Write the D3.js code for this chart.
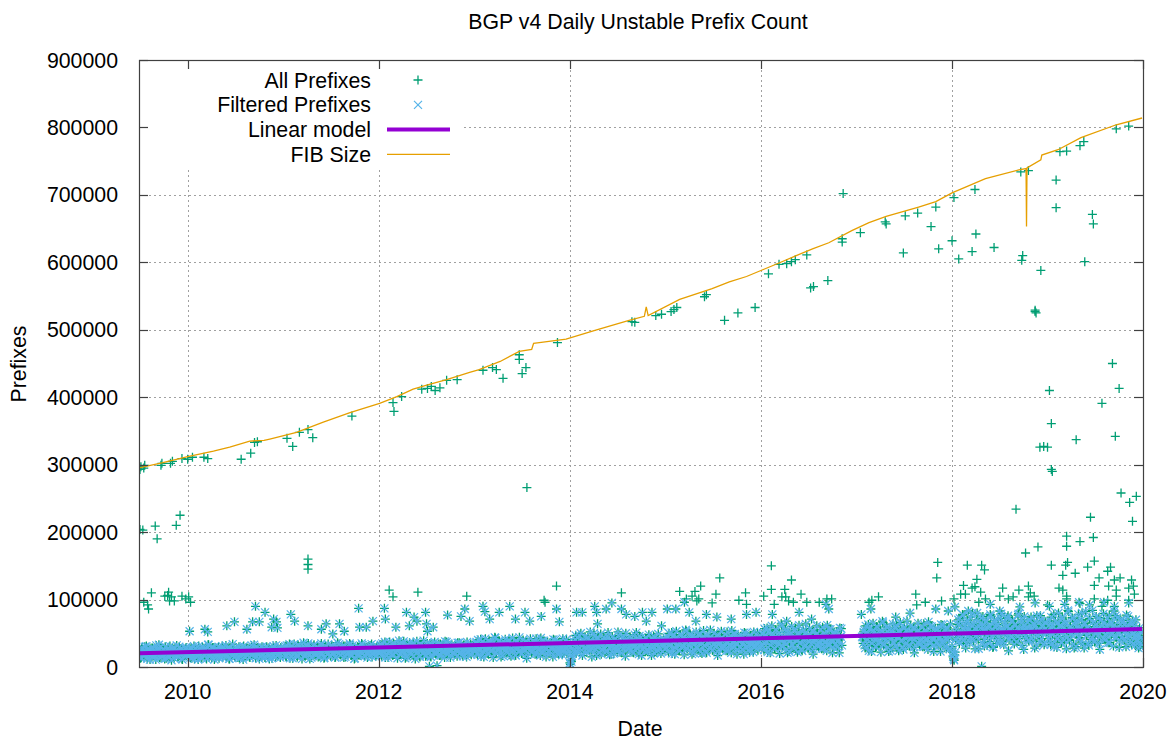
<!DOCTYPE html>
<html>
<head>
<meta charset="utf-8">
<script src="https://cdn.jsdelivr.net/npm/d3@7"></script>
<style>
  body { margin: 0; background: #fff; }
  text { font-family: "Liberation Sans", Arial, sans-serif; fill: #000; }
</style>
</head>
<body>
<svg id="chart" width="1171" height="740"></svg>
<script>
// all values in thousands of prefixes, dates as decimal years
var yearTicks = [2010, 2012, 2014, 2016, 2018, 2020];
var valueTicks = [0, 100, 200, 300, 400, 500, 600, 700, 800, 900];

// filtered prefixes, one value every 4 days from each segment start
var bandStarts = ["2009-06-25", "2010-01-01", "2011-01-01", "2012-01-01", "2013-01-01",
  "2014-01-01", "2015-01-01", "2016-01-01", "2017-01-22", "2018-01-01", "2019-01-01"];
var bandValues = [
  "21 18 25 14 29 20 16 23 31 12 19 26 22 15 28 17 24 11 20 27 33 18 14 22 25 19 30 13 21 16 26 23 10 28 20 17 24 32 15 22 19 27 12 21 25 18 29",
  "22 16 28 19 13 25 31 20 17 24 11 27 21 15 30 23 18 26 12 22 33 19 25 14 20 29 16 23 27 18 13 24 21 31 17 26 20 15 28 22 12 25 19 34 23 16 21 27 14 30 24 18 22 11 26 20 29 17 23 15 25 32 19 21 28 13 24 18 27 22 16 30 20 25 14 23 19 28 12 26 21 17 31 24 15 22 27 18 20 29 23",
  "24 19 31 15 27 22 34 18 25 13 29 21 26 17 33 23 20 28 12 24 30 16 26 22 35 19 27 14 23 31 21 25 18 29 24 16 32 20 26 13 28 22 19 34 25 17 23 30 21 27 15 24 36 20 26 18 29 22 14 31 25 19 27 23 33 17 24 28 12 21 26 30 18 25 22 35 20 27 16 24 29 19 23 32 26 15 21 28 24 18 30",
  "27 21 33 16 29 24 37 19 26 14 31 23 28 18 35 25 22 30 13 27 34 20 28 24 38 17 30 15 26 32 22 29 19 36 27 12 31 23 28 16 33 25 20 39 27 18 24 30 22 35 15 28 26 21 32 19 29 25 17 34 27 23 30 14 26 37 21 28 24 18 33 27 20 31 25 16 29 36 22 27 19 32 24 28 15 30 23 26 34 21 28",
  "30 24 37 18 33 27 41 21 29 15 35 26 31 20 39 28 23 34 14 30 43 22 32 27 38 19 33 17 29 36 25 31 21 40 30 16 35 26 32 18 37 28 23 44 30 20 27 34 25 38 13 31 29 24 36 22 33 28 19 42 30 26 35 17 29 39 24 31 27 21 37 30 23 34 28 15 32 40 25 30 20 36 27 33 18 35 26 29 41 24 31",
  "6 10 16 33 26 41 20 37 30 47 23 32 17 39 29 35 22 44 31 25 38 15 34 50 24 36 30 43 21 37 19 32 40 27 35 23 46 33 18 39 29 36 20 42 31 26 52 33 22 30 38 28 45 16 34 32 27 41 24 37 31 21 48 33 29 40 19 32 44 26 35 30 23 42 33 25 38 31 17 36 46 28 33 22 40 30 37 20 39 29 34",
  "37 29 45 22 41 33 51 26 36 19 43 31 38 24 48 34 28 42 18 37 53 27 39 33 47 23 41 21 36 44 30 38 25 50 37 20 43 32 39 23 46 35 28 55 37 25 33 42 31 47 17 38 36 29 44 27 41 34 24 52 37 32 43 21 36 49 30 38 34 26 46 37 28 42 35 19 40 50 31 37 25 45 33 41 22 43 32 36 51 30 38",
  "41 32 50 25 46 37 58 29 40 21 48 35 43 27 55 38 31 47 20 41 61 30 44 37 53 26 46 23 40 50 34 42 28 57 41 22 49 36 44 26 52 39 31 64 41 28 37 47 35 54 19 42 40 33 50 30 46 38 27 59 41 36 48 24 40 56 33 43 38 29 52 41 31 47 39 21 45 57",
  "45 35 55 28 50 40 63 32 44 23 53 38 47 30 60 42 34 51 22 45 66 33 48 41 58 29 50 25 44 55 37 46 31 62 45 24 53 39 48 29 57 43 34 68 45 31 41 52 38 59 21 46 44 36 55 33 50 42 30 64 45 39 53 26 44 61 36 47 42 32 57 45 34 52 43 23 49 62 38 45 31 56 41 50 27",
  "30 15 10 22 56 44 70 35 62 49 78 39 55 28 66 47 58 37 74 52 42 63 27 56 80 41 60 51 72 36 62 31 55 68 46 57 38 76 56 29 66 48 59 35 71 53 42 79 56 38 51 64 47 73 24 57 54 44 68 41 62 52 37 77 56 48 65 32 55 75 45 58 52 40 70 56 42 64 53 28 61 76 47 56 38 69 51 62 33 67 50",
  "54 42 68 33 61 48 78 37 56 29 66 45 59 36 74 51 40 63 27 54 82 39 60 50 72 34 62 30 53 68 44 57 37 80 54 28 65 47 58 35 71 52 41 84 54 37 50 64 46 73 26 55 53 43 67 40 62 51 36 77 54 47 65 31 55 76 44 58 51 39 70 54 41 63 52 30 60 75 46 54 37 68 50 61 32 47 40 28 58 35 44"
];
// the days in between, two days after each segment start
var bandValues2 = [
  "19 24 13 27 22 17 30 20 15 26 23 11 28 18 21 25 16 32 19 24 14 29 21 17 26 12 23 20 27 15 31 22 18 25 13 28 20 24 16 30 21 26 11 19 23 27 17",
  "20 25 14 29 18 23 12 27 21 16 31 19 24 13 28 22 17 26 20 33 15 24 18 29 21 11 26 19 23 30 16 22 27 14 25 20 32 18 23 12 28 21 17 26 24 15 29 19 22 13 27 20 25 31 16 23 18 28 21 14 26 19 24 33 17 22 29 20 12 25 23 18 27 15 21 30 24 16 26 19 13 28 22 20 32 17 25 21 14 27 23",
  "23 28 16 32 21 26 13 30 24 18 34 22 27 15 31 25 19 29 23 36 17 26 20 32 24 12 29 21 25 33 18 24 30 15 27 22 35 20 25 14 31 23 19 28 26 16 32 21 24 14 30 22 27 34 18 25 20 31 23 15 28 21 26 35 19 24 32 22 13 27 25 20 29 17 23 33 26 18 28 21 14 30 24 22 34 19 27 23 16 29 25",
  "26 31 18 35 24 29 14 33 27 20 37 25 30 17 34 28 21 32 26 39 19 29 23 35 27 13 32 24 28 36 20 27 33 16 30 25 38 22 28 15 34 26 21 31 29 18 35 24 27 16 33 25 30 37 20 28 22 34 26 17 31 24 29 38 21 27 35 25 14 30 28 22 32 19 26 36 29 20 31 24 16 33 27 25 37 21 30 26 18 32 28",
  "29 35 20 40 27 33 16 37 30 22 42 28 34 19 38 31 24 36 29 44 21 32 26 39 30 15 36 27 31 41 22 30 37 18 34 28 43 25 31 17 38 29 23 35 32 20 40 27 30 18 37 28 33 42 22 31 25 38 29 19 35 27 32 43 23 30 39 28 15 34 31 24 36 21 29 41 32 22 35 27 18 37 30 28 42 23 33 29 20 36 31",
  "4 8 20 38 31 47 24 43 35 28 50 32 39 22 45 36 27 42 33 52 25 37 30 46 34 17 42 31 36 49 26 35 44 21 40 33 51 29 36 19 45 34 27 41 38 23 47 32 35 21 44 33 39 50 26 36 29 45 34 22 41 31 37 51 27 35 46 33 17 40 36 28 43 24 34 48 37 26 41 31 21 44 35 32 49 27 39 34 23 42 36",
  "36 42 25 50 33 40 20 46 37 28 53 34 42 24 48 38 30 45 35 55 27 40 32 49 37 19 45 33 39 52 28 37 47 22 43 35 54 31 39 21 48 36 29 44 40 25 50 34 38 23 47 35 41 53 28 39 31 48 36 24 44 33 40 54 29 37 49 35 19 43 38 30 46 26 36 51 40 28 44 33 22 47 37 34 52 29 41 36 25 45 38",
  "40 48 29 57 38 46 22 53 42 32 61 39 48 27 55 43 34 51 40 64 30 45 36 56 42 21 51 38 44 60 32 42 54 25 49 40 62 35 44 24 55 41 33 50 46 28 57 39 43 26 53 40 47 61 32 44 36 55 41 27 50 38 45 62 33 42 56 40 21 49 43 34 52 30 41 58 45 32",
  "44 52 32 61 41 50 24 57 46 35 65 43 52 30 59 47 37 55 44 68 33 49 39 60 46 23 55 42 48 64 35 46 58 28 53 44 66 38 48 26 59 45 36 54 50 31 61 43 47 29 57 44 51 65 35 48 40 59 45 30 54 42 49 67 36 46 60 44 23 53 47 37 56 33 45 63 49 35 55 42 27 58 46 43 64",
  "22 12 18 40 50 63 38 72 52 44 77 49 60 35 69 54 42 64 51 80 39 57 46 70 53 27 64 49 56 75 41 54 67 32 61 51 78 45 56 30 69 52 42 63 58 36 72 50 55 33 67 51 59 76 40 56 46 69 52 34 63 48 57 79 42 54 70 51 26 62 55 43 66 38 52 74 57 40 64 49 31 67 53 50 76 42 60 54 36 65 52",
  "52 62 38 74 49 60 30 68 55 43 80 51 62 36 71 57 45 67 53 84 41 59 48 73 55 28 67 51 58 78 43 56 70 34 64 53 82 47 59 32 72 54 44 66 60 38 75 52 57 35 69 53 61 79 42 58 48 72 54 36 66 50 60 83 44 56 73 53 29 63 57 45 69 40 54 77 59 42 66 51 33 64 50 47 70 38 55 46 30 52 41"
];

// filtered days that stand out of the band (same in both series)
var filteredHigh = [
  [2010.02,53],[2010.18,56],[2010.21,52],[2010.41,61],[2010.49,67],[2010.62,56],[2010.68,67],[2010.71,90],
  [2010.75,67],[2010.81,81],[2010.88,59],[2010.90,71],[2010.93,67],[2010.94,58],[2011.08,78],[2011.12,68],
  [2011.26,61],[2011.40,56],[2011.45,64],[2011.52,49],[2011.59,64],[2011.64,53],[2011.79,87],[2011.80,59],
  [2011.87,59],[2011.94,68],[2012.06,87],[2012.07,71],[2012.18,59],[2012.29,81],[2012.32,61],[2012.37,74],
  [2012.40,68],[2012.49,81],[2012.50,64],[2012.51,53],[2012.57,59],[2012.72,77],[2012.86,75],[2012.90,86],
  [2012.95,68],[2013.11,82],[2012.53,1],[2012.61,2],[2012.49,16],
  [2013.09,90],[2013.16,71],[2013.26,81],[2013.37,90],[2013.43,71],[2013.53,81],[2013.58,68],[2013.70,75],
  [2013.86,86],[2013.89,67],[2014.07,81],[2014.13,81],[2014.26,90],[2014.28,81],[2014.29,64],[2014.38,86],
  [2014.44,95],[2014.54,86],[2014.59,78],[2014.68,75],[2014.76,81],[2014.80,68],[2014.86,81],[2014.96,61],
  [2015.02,86],[2015.11,86],[2015.20,96],[2015.25,81],[2015.32,68],[2015.43,78],[2015.54,74],[2015.69,71],
  [2015.85,78],[2015.95,81],[2016.12,78],[2016.27,68],[2016.40,81],[2016.53,71],[2016.71,86],
  [2016.68,93],[2017.05,78],[2017.15,86],[2017.41,74],[2017.56,80],[2017.83,86],[2017.96,83],[2018.03,89],
  [2018.17,83],[2018.40,93],[2018.50,83],[2018.71,89],[2018.87,95],[2019.02,90],[2019.18,93],[2019.33,96],
  [2019.44,92],[2019.59,96],[2019.70,90],[2019.85,95],[2018.31,1]
];

// unfiltered-only days (All Prefixes)
var allOutliers = [
  [2009.50,293],[2009.51,297],[2009.54,295],[2009.55,299],[2009.73,302],[2009.72,299],[2009.84,305],[2009.82,302],
  [2009.94,309],[2010.00,308],[2010.05,311],[2010.17,311],[2010.21,309],[2010.56,308],[2010.66,317],[2010.70,333],
  [2010.73,334],[2011.04,339],[2011.10,327],[2011.17,348],[2011.26,352],[2011.31,340],[2011.72,372],[2012.15,392],
  [2012.16,379],[2012.24,401],[2012.45,412],[2012.51,413],[2012.55,416],[2012.59,410],[2012.64,414],[2012.71,425],
  [2012.82,426],[2013.09,440],[2013.19,444],[2013.23,441],[2013.30,428],[2013.47,463],[2013.47,456],[2013.50,435],
  [2013.54,444],[2013.87,481],[2014.65,512],[2014.68,511],[2014.90,521],[2014.96,523],[2015.06,527],[2015.09,530],
  [2015.12,533],[2015.41,549],[2015.43,552],[2015.62,514],[2015.76,525],[2015.94,533],[2016.08,583],[2016.19,597],
  [2016.27,598],[2016.32,601],[2016.36,604],[2016.48,611],[2016.52,562],[2016.55,564],[2016.70,573],[2016.85,635],
  [2016.85,630],[2016.86,702],[2017.04,644],[2017.30,660],[2017.31,657],[2017.49,614],[2017.51,669],[2017.64,673],
  [2017.78,653],[2017.83,682],[2017.86,620],[2018.00,632],[2018.02,696],[2018.07,605],[2018.21,616],[2018.24,708],
  [2018.25,642],[2018.44,622],[2018.72,734],[2018.80,736],[2018.74,610],[2018.73,603],[2018.87,527],[2018.88,525],
  [2018.87,529],[2018.93,588],[2019.09,722],[2019.09,681],[2019.13,764],[2019.20,765],[2019.34,773],[2019.38,779],
  [2019.72,798],[2019.85,802],[2019.39,601],[2019.47,671],[2019.48,657],[2019.68,450],[2019.75,413],[2019.57,391],
  [2019.71,342],[2019.02,410],[2019.04,361],[2018.92,326],[2018.96,327],[2019.00,326],[2019.30,337],[2019.04,293],
  [2019.05,290],[2018.67,234],[2019.77,258],[2019.86,244],[2019.93,253],[2019.45,222],[2019.89,216],[2019.20,194],
  [2019.48,192],[2019.34,186],[2019.20,179],[2018.90,178],[2018.77,169],
  [2009.50,204],[2009.53,203],[2009.66,209],[2009.68,190],[2009.88,210],[2009.92,225],[2011.26,160],[2011.26,152],
  [2011.26,145],[2013.55,266],
  [2009.62,110],[2009.54,96],[2009.59,86],[2009.58,92],[2009.76,105],[2009.79,106],[2009.81,98],[2009.83,104],
  [2009.86,98],[2009.80,111],[2009.94,105],[2009.98,101],[2010.01,104],[2010.03,96],[2012.11,114],[2012.15,104],
  [2012.41,111],[2012.92,105],
  [2013.86,120],[2013.73,99],[2013.74,96],[2014.54,110],[2015.15,112],[2015.22,101],[2015.28,105],[2015.31,112],
  [2015.33,98],[2015.37,120],[2015.35,101],[2015.49,95],[2015.53,108],[2015.57,132],[2015.77,99],[2015.84,110],
  [2015.85,93],[2016.03,105],[2016.11,150],[2016.11,115],[2016.14,93],[2016.25,115],[2016.26,104],[2016.32,129],
  [2016.29,98],[2016.34,96],[2016.22,104],[2016.42,108],[2016.48,96],[2016.61,96],[2016.74,101],
  [2016.69,101],[2017.13,96],[2017.16,99],[2017.23,104],[2017.62,108],[2017.63,92],[2017.72,96],[2017.89,98],
  [2018.02,101],[2018.28,96],[2018.35,101],[2018.59,101],[2018.64,104],[2018.80,104],[2019.00,92],[2019.20,101],
  [2019.34,94],[2019.49,101],[2019.57,90],[2019.63,99],[2019.85,99],
  [2017.85,155],[2017.84,132],[2018.16,151],[2018.31,151],[2018.34,144],[2018.26,130],[2019.04,151],[2019.21,155],
  [2019.19,151],[2019.16,136],[2019.29,139],[2019.49,157],[2019.42,148],[2019.63,142],[2019.66,148],[2019.54,132],
  [2019.70,129],[2019.76,132],[2019.88,129],
  [2018.12,121],[2018.21,117],[2018.24,119],[2018.09,108],[2018.14,108],[2018.30,111],[2018.53,117],[2018.50,105],
  [2018.70,114],[2018.80,120],[2018.82,110],[2018.86,105],[2019.12,117],[2019.16,114],[2019.20,105],[2019.49,121],
  [2019.64,120],[2019.72,114],[2019.85,117],[2019.90,120],[2019.91,108],[2019.72,105]
];

var linearModel = [[2009.48, 20.3], [2019.99, 56.2]];

var fibSize = [
  [2009.48,295],[2009.74,303],[2010.00,312],[2010.27,320],[2010.44,326],[2010.65,335],[2010.80,336],[2010.86,338],
  [2011.14,348],[2011.42,363],[2011.70,377],[2012.01,391],[2012.19,401],[2012.36,412],[2012.53,419],[2012.71,426],
  [2012.95,437],[2013.05,441],[2013.27,453],[2013.47,468],[2013.60,471],[2013.62,480],[2013.68,481],[2013.96,486],
  [2014.28,500],[2014.62,514],[2014.78,520],[2014.80,534],[2014.82,521],[2015.15,545],[2015.49,561],[2015.67,571],
  [2015.85,579],[2016.02,589],[2016.19,599],[2016.37,610],[2016.54,620],[2016.71,629],[2016.95,647],[2017.13,659],
  [2017.31,668],[2017.65,682],[2017.83,690],[2018.00,703],[2018.35,724],[2018.70,737],[2018.775,739],[2018.78,653],
  [2018.785,740],[2018.93,752],[2018.94,759],[2019.11,767],[2019.35,785],[2019.72,804],[2019.99,814]
];

function yd(y) {
  var Y = Math.floor(y);
  var s = Date.UTC(Y, 0, 1), e = Date.UTC(Y + 1, 0, 1);
  return new Date(s + (y - Y) * (e - s));
}

// build filtered series
var filtered = [];
function addBand(strings, offsetDays) {
  bandStarts.forEach(function (st, k) {
    var t0 = new Date(st + "T00:00:00Z").getTime() + offsetDays * 864e5;
    strings[k].split(" ").forEach(function (v, i) {
      filtered.push({ date: new Date(t0 + i * 4 * 864e5), v: +v });
    });
  });
}
addBand(bandValues, 0);
addBand(bandValues2, 2);
filteredHigh.forEach(function (d) { filtered.push({ date: yd(d[0]), v: d[1] }); });
var allPrefixes = filtered.concat(allOutliers.map(function (d) { return { date: yd(d[0]), v: d[1] }; }));

var pL = 139, pR = 1143, pT = 60, pB = 667;
var svg = d3.select("#chart");

var x = d3.scaleUtc().domain([yd(2009.49), yd(2020)]).range([pL, pR]);
var y = d3.scaleLinear().domain([0, 900]).range([pB, pT]);

svg.append("clipPath").attr("id", "plotclip").append("rect")
  .attr("x", pL).attr("y", pT).attr("width", pR - pL).attr("height", pB - pT);

// grid
var grid = svg.append("g").attr("stroke", "#a0a0a0").attr("stroke-width", 1).attr("stroke-dasharray", "2,3");
grid.selectAll(".gx").data(yearTicks.filter(function (t) { return t < 2020; })).enter().append("line")
  .attr("x1", function (d) { return Math.round(x(yd(d))) + 0.5; })
  .attr("x2", function (d) { return Math.round(x(yd(d))) + 0.5; })
  .attr("y1", pT).attr("y2", pB);
grid.selectAll(".gy").data(valueTicks.filter(function (t) { return t > 0 && t < 900; })).enter().append("line")
  .attr("y1", function (d) { return Math.round(y(d)) + 0.5; })
  .attr("y2", function (d) { return Math.round(y(d)) + 0.5; })
  .attr("x1", pL).attr("x2", pR);

var plot = svg.append("g").attr("clip-path", "url(#plotclip)");

var plusPath = "M-4.5,0H4.5M0,-4.5V4.5";
var crossPath = "M-4,-4L4,4M-4,4L4,-4";

plot.append("g").selectAll("path").data(allPrefixes).enter().append("path")
  .attr("d", plusPath)
  .attr("transform", function (d) { return "translate(" + x(d.date) + "," + y(d.v) + ")"; })
  .attr("stroke", "#009e73").attr("stroke-width", 1.3).attr("fill", "none");

plot.append("g").selectAll("path").data(filtered).enter().append("path")
  .attr("d", crossPath)
  .attr("transform", function (d) { return "translate(" + x(d.date) + "," + y(d.v) + ")"; })
  .attr("stroke", "#56b4e9").attr("stroke-width", 1.2).attr("fill", "none");

var line = d3.line().x(function (d) { return x(yd(d[0])); }).y(function (d) { return y(d[1]); });

plot.append("path").datum(linearModel).attr("d", line)
  .attr("stroke", "#9400d3").attr("stroke-width", 4).attr("fill", "none");

plot.append("path").datum(fibSize).attr("d", line)
  .attr("stroke", "#e69f00").attr("stroke-width", 1.3).attr("fill", "none");

// opaque key
svg.append("rect").attr("x", pL + 1).attr("y", pT + 1).attr("width", 322).attr("height", 107).attr("fill", "#fff");

// border and ticks
svg.append("rect").attr("x", pL + 0.5).attr("y", pT + 0.5).attr("width", pR - pL).attr("height", pB - pT)
  .attr("fill", "none").attr("stroke", "#404040").attr("stroke-width", 1.2);

var ticks = svg.append("g").attr("stroke", "#404040").attr("stroke-width", 1.2);
valueTicks.forEach(function (t) {
  var yy = Math.round(y(t)) + 0.5;
  ticks.append("line").attr("x1", pL).attr("x2", pL + 9).attr("y1", yy).attr("y2", yy);
  ticks.append("line").attr("x1", pR - 9).attr("x2", pR).attr("y1", yy).attr("y2", yy);
});
yearTicks.forEach(function (t) {
  var xx = Math.round(x(yd(t))) + 0.5;
  ticks.append("line").attr("x1", xx).attr("x2", xx).attr("y1", pB - 9).attr("y2", pB);
  ticks.append("line").attr("x1", xx).attr("x2", xx).attr("y1", pT).attr("y2", pT + 9);
});

var fs = "21.3px";
svg.append("g").selectAll("text").data(valueTicks).enter().append("text")
  .attr("x", 118).attr("y", function (d) { return y(d) + 7.5; })
  .attr("text-anchor", "end").style("font-size", fs)
  .text(function (d) { return String(d * 1000); });

svg.append("g").selectAll("text").data(yearTicks).enter().append("text")
  .attr("x", function (d) { return x(yd(d)); }).attr("y", 699)
  .attr("text-anchor", "middle").style("font-size", fs)
  .text(function (d) { return d; });

svg.append("text").attr("x", 638).attr("y", 29).attr("text-anchor", "middle").style("font-size", fs)
  .text("BGP v4 Daily Unstable Prefix Count");
svg.append("text").attr("x", 640).attr("y", 736).attr("text-anchor", "middle").style("font-size", fs)
  .text("Date");
svg.append("text").attr("transform", "translate(26,364) rotate(-90)").attr("text-anchor", "middle").style("font-size", fs)
  .text("Prefixes");

// key entries
var keys = ["All Prefixes", "Filtered Prefixes", "Linear model", "FIB Size"];
var key = svg.append("g");
keys.forEach(function (k, i) {
  var ky = 80 + i * 24.8;
  key.append("text").attr("x", 371).attr("y", ky + 7.5).attr("text-anchor", "end").style("font-size", fs).text(k);
});
key.append("path").attr("d", plusPath).attr("transform", "translate(418,80)")
  .attr("stroke", "#009e73").attr("stroke-width", 1.3).attr("fill", "none");
key.append("path").attr("d", crossPath).attr("transform", "translate(418,104.8)")
  .attr("stroke", "#56b4e9").attr("stroke-width", 1.2).attr("fill", "none");
key.append("line").attr("x1", 387).attr("x2", 450).attr("y1", 129.6).attr("y2", 129.6)
  .attr("stroke", "#9400d3").attr("stroke-width", 4);
key.append("line").attr("x1", 387).attr("x2", 450).attr("y1", 154.4).attr("y2", 154.4)
  .attr("stroke", "#e69f00").attr("stroke-width", 1.3);
</script>
</body>
</html>
